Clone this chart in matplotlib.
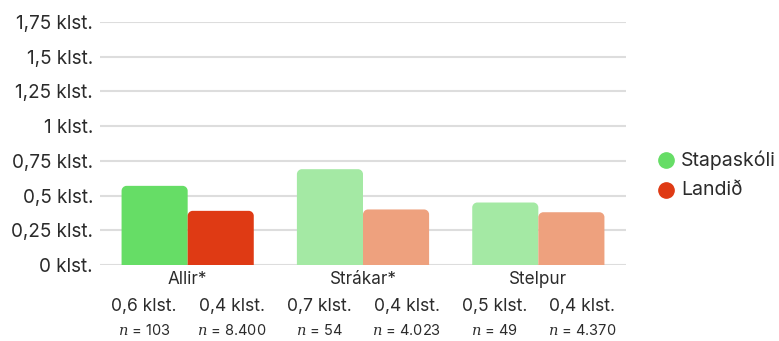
import matplotlib.pyplot as plt
from matplotlib.path import Path
from matplotlib.patches import PathPatch
import numpy as np

plt.rcParams['font.family'] = ['Inter', 'DejaVu Sans']
plt.rcParams['mathtext.fontset'] = 'dejavuserif'

categories = ["Allir*", "Strákar*", "Stelpur"]
series_names = ["Stapaskóli", "Landið"]
stapaskoli = [0.57, 0.69, 0.45]
landid = [0.39, 0.40, 0.38]
n_stapaskoli = ["103", "54", "49"]
n_landid = ["8.400", "4.023", "4.370"]
y_ticks = [0, 0.25, 0.5, 0.75, 1, 1.25, 1.5, 1.75]

# first group is highlighted, the rest are faded
colors_main = ["#66dd66", "#df3a14"]
colors_faded = ["#a4e9a4", "#eea17e"]
text_color = "#2b2b2b"


def fmt_num(v):
    return f"{v:g}".replace(".", ",")


def rounded_top_bar(ax, x0, width, height, rx, ry, color):
    x1 = x0 + width
    k = 0.55
    verts = [
        (x0, 0), (x0, height - ry),
        (x0, height - ry + k * ry), (x0 + rx - k * rx, height), (x0 + rx, height),
        (x1 - rx, height),
        (x1 - rx + k * rx, height), (x1, height - ry + k * ry), (x1, height - ry),
        (x1, 0), (x0, 0),
    ]
    codes = [Path.MOVETO, Path.LINETO,
             Path.CURVE4, Path.CURVE4, Path.CURVE4,
             Path.LINETO,
             Path.CURVE4, Path.CURVE4, Path.CURVE4,
             Path.LINETO, Path.CLOSEPOLY]
    ax.add_patch(PathPatch(Path(verts, codes), facecolor=color, edgecolor="none", zorder=3))


fig = plt.figure(figsize=(7.79, 3.41), dpi=100)
ax = fig.add_axes([100 / 779, 1 - 265 / 341, 526 / 779, 243 / 341])
ax.set_xlim(-0.5, 2.5)
ax.set_ylim(0, 1.75)

# corner radius of about 5 px, converted into data units
rx = 5 / (526 / 3)
ry = 5 / (243 / 1.75)

bw = 0.377
x = np.arange(len(categories))
for i in range(len(categories)):
    cols = colors_main if i == 0 else colors_faded
    rounded_top_bar(ax, x[i] - bw, bw, stapaskoli[i], rx, ry, cols[0])
    rounded_top_bar(ax, x[i], bw, landid[i], rx, ry, cols[1])

for t in y_ticks:
    ax.axhline(t, color="#dddddd", lw=1.5, zorder=1)

ax.set_yticks(y_ticks)
ax.set_yticklabels([f"{fmt_num(t)} klst." for t in y_ticks], fontsize=13.6, color=text_color)
ax.tick_params(axis="y", length=0, pad=5)
ax.set_xticks([])
for s in ax.spines.values():
    s.set_visible(False)

# category names under each group
for i, c in enumerate(categories):
    ax.text(x[i], -0.108, c, ha="center", va="center", fontsize=12.3,
            color=text_color, clip_on=False)

# value and sample-size labels, one column per bar
col_x = [-0.25, 0.25, 0.75, 1.25, 1.75, 2.25]
vals = []
ns = []
for i in range(len(categories)):
    vals += [stapaskoli[i], landid[i]]
    ns += [n_stapaskoli[i], n_landid[i]]
for cx, v, n in zip(col_x, vals, ns):
    ax.text(cx, -0.302, f"{v:.1f}".replace(".", ",") + " klst.", ha="center", va="center",
            fontsize=12.6, color=text_color, clip_on=False)
    ax.text(cx, -0.475, f"$n$ = {n}", ha="center", va="center",
            fontsize=10.5, color=text_color, clip_on=False)

# legend with round markers
for j, name in enumerate(series_names):
    yy = 1 - (160 + 30 * j) / 341
    fig.add_artist(plt.Line2D([666 / 779], [yy], marker="o", markersize=11,
                              color=colors_main[j], transform=fig.transFigure))
    fig.text(681 / 779, yy, name, ha="left", va="center", fontsize=14,
             color=text_color)

fig.savefig("out.png", dpi=100)
